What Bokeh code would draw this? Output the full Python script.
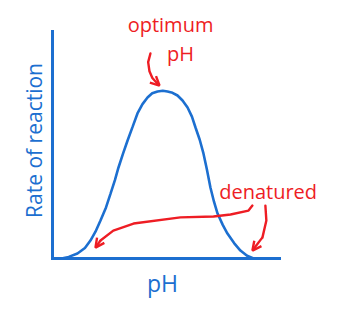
import math
from bokeh.plotting import figure
from bokeh.models import Range1d, FixedTicker, Label, Arrow, OpenHead
from bokeh.embed import file_html
from bokeh.resources import INLINE

# Curve: rate of reaction vs pH
ph = [0.56, 1.0, 1.54, 2.0, 2.34, 2.65, 2.96, 3.3, 3.58, 3.85, 4.07, 4.35, 4.63, 4.95, 5.24,
      5.55, 5.86, 6.15, 6.48, 6.8, 7.09, 7.4, 7.71, 8.02, 8.33, 8.6, 8.82, 9.08, 9.31, 9.52,
      9.74, 9.96, 10.18, 10.5, 10.79, 11.2, 11.59, 12.0, 12.4]
rate = [0.0, 0.7, 2.2, 4.6, 7.9, 11.8, 16.7, 22.5, 28.6, 34.5, 40.1, 46.2, 52.0, 58.2, 63.9,
        68.0, 70.9, 72.8, 73.6, 73.9, 73.6, 73.0, 71.8, 69.6, 66.5, 62.5, 57.7, 52.3, 46.3, 39.3,
        31.3, 25.0, 19.8, 14.8, 11.0, 6.8, 3.5, 1.2, 0.0]

# Annotation arrows (pH, rate)
opt_x = [6.04, 5.90, 5.98, 6.16, 6.48, 6.60]
opt_y = [90.3, 86.5, 82.5, 79.5, 77.0, 76.2]
den1_x = [12.33, 12.09, 10.98, 9.93, 7.89, 5.00, 3.75, 2.96, 2.65]
den1_y = [23.3, 21.1, 19.4, 18.5, 18.1, 15.4, 12.3, 7.9, 4.8]
den2_x = [13.13, 13.19, 12.95, 12.33]
den2_y = [23.3, 16.7, 9.3, 3.5]

labels_text = ["optimum", "pH", "denatured"]
labels_x = [7.28, 7.89, 13.30]
labels_y = [102.9, 90.4, 29.5]

x_label = "pH"
y_label = "Rate of reaction"
x_label_pos = (6.78, -11.0)
y_label_pos = (-1.17, 52.0)
x_bounds = (0, 14)
y_bounds = (0, 100)

BLUE = "#1c6fd0"
RED = "#ee1d24"
FONT = "Open Sans"

p = figure(width=364, height=316, output_backend="svg", toolbar_location=None,
           x_range=Range1d(-2.714, 19.243), y_range=Range1d(-22.03, 113.66),
           min_border_left=8, min_border_right=0, min_border_top=0, min_border_bottom=8)
p.outline_line_color = None
p.grid.visible = False
p.background_fill_color = "white"

for ax in (p.xaxis[0], p.yaxis[0]):
    ax.ticker = FixedTicker(ticks=[])
    ax.fixed_location = 0
    ax.major_tick_line_color = None
    ax.minor_tick_line_color = None
    ax.major_label_text_font_size = "0px"
    ax.axis_line_color = BLUE
    ax.axis_line_width = 3
    ax.axis_line_cap = "square"

p.xaxis.bounds = x_bounds
p.yaxis.bounds = y_bounds

p.line(ph, rate, line_color=BLUE, line_width=2.6)

for xs, ys in ((opt_x, opt_y), (den1_x, den1_y), (den2_x, den2_y)):
    p.line(xs[:-1], ys[:-1], line_color=RED, line_width=2.4, line_cap="round", line_join="round")
    p.add_layout(Arrow(end=OpenHead(size=9, line_color=RED, line_width=2.4),
                       x_start=xs[-2], y_start=ys[-2], x_end=xs[-1], y_end=ys[-1],
                       line_color=RED, line_width=2.4))

for t, lx, ly in zip(labels_text, labels_x, labels_y):
    p.add_layout(Label(x=lx, y=ly, text=t, text_align="center", text_baseline="alphabetic",
                       text_color=RED, text_font=FONT, text_font_size="20px"))

p.add_layout(Label(x=x_label_pos[0], y=x_label_pos[1], text=x_label, text_align="center",
                   text_baseline="alphabetic", text_color=BLUE, text_font=FONT,
                   text_font_size="23px"))
p.add_layout(Label(x=y_label_pos[0], y=y_label_pos[1], text=y_label, text_align="center",
                   text_baseline="alphabetic", angle=math.pi / 2, text_color=BLUE,
                   text_font=FONT, text_font_size="21px"))

open("out.html", "w").write(file_html(p, INLINE))
